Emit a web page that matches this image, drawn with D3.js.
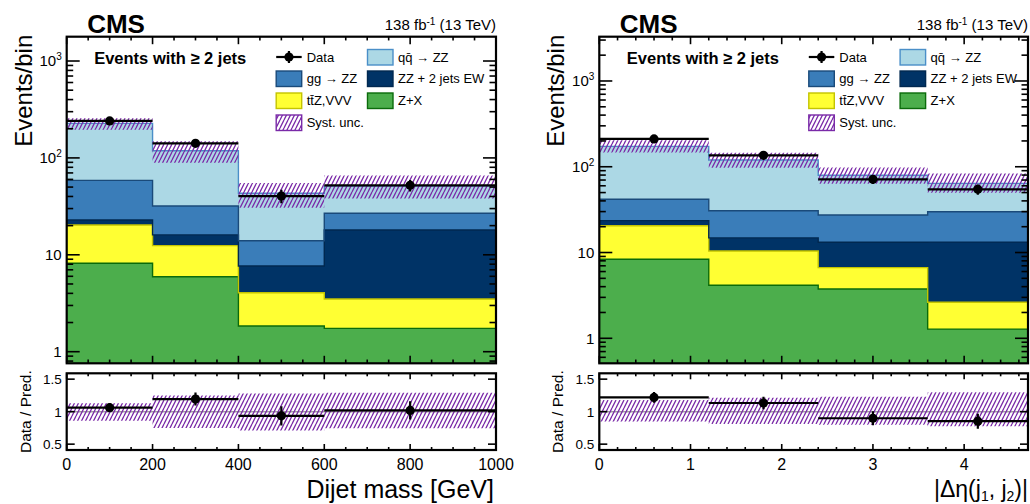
<!DOCTYPE html>
<html><head><meta charset="utf-8">
<script src="https://cdn.jsdelivr.net/npm/d3@7"></script>
<style>
body{margin:0;background:#fff}
svg{display:block}
text{font-family:"Liberation Sans",Arial,Helvetica,sans-serif;fill:#000}
</style>
</head><body><svg id="c" width="1030" height="504"></svg>
<script>
// ---------------- data ----------------
const leftEdges   = [0, 200, 400, 600, 1000];
const leftData    = [241, 141.5, 40.4, 52.1];
const leftDataErr = [15.5, 11.9, 6.4, 7.2];
const leftZX      = [8.17, 5.94, 1.84, 1.74];
const leftTTZ     = [12.1, 6.5, 2.22, 1.76];
const leftEW      = [2.6, 3.6, 3.6, 14.5];
const leftGG      = [35.8, 15.9, 6.3, 8.8];
const leftQQ      = [168.3, 86.6, 29.2, 24.3];
const leftUncUp   = [1.13, 1.25, 1.28, 1.29];
const leftUncDn   = [0.86, 0.75, 0.71, 0.745];
const leftXTicks  = [0, 200, 400, 600, 800, 1000];

const rightEdges   = [0, 1.2, 2.4, 3.6, 4.7];
const rightData    = [211, 136, 71.4, 54.6];
const rightDataErr = [14.5, 11.7, 8.5, 7.4];
const rightZX      = [8.34, 4.15, 3.76, 1.28];
const rightTTZ     = [12.2, 6.25, 2.9, 1.35];
const rightEW      = [3.0, 4.4, 6.5, 10.6];
const rightGG      = [18.3, 15.9, 14.2, 16.7];
const rightQQ      = [131.2, 89.3, 52.1, 34.1];
const rightUncUp   = [1.18, 1.215, 1.23, 1.30];
const rightUncDn   = [0.85, 0.81, 0.80, 0.775];
const rightXTicks  = [0, 1, 2, 3, 4];

const yMainTicks   = [1, 10, 100, 1000];
const yMainLabels  = [["1",""], ["10",""], ["10","2"], ["10","3"]];
const ratioTicks   = [0.5, 1, 1.5];
const ratioLabels  = ["0.5", "1", "1.5"];

const seriesNames  = ["Z+X", "tt\u0304Z,VVV", "ZZ + 2 jets EW", "gg \u2192 ZZ", "qq\u0304 \u2192 ZZ"];
// ---------------- styles ----------------
const fills  = ["#4cae4c", "#ffff33", "#003366", "#3a7db9", "#acd8e5"];
const edges  = ["#0b6b0b", "#c4c400", "#002850", "#1a4a7a", "#4a8fc8"];
const hatchColor = "#7a2aa8";

const svg = d3.select("#c");
const defs = svg.append("defs");
const pat = defs.append("pattern").attr("id", "hatch").attr("patternUnits", "userSpaceOnUse")
  .attr("width", 4).attr("height", 8);
pat.append("path").attr("d", "M0,8 L4,0 M-1,2 L0,0 M4,8 L5,6")
  .attr("stroke", hatchColor).attr("stroke-width", 1.3).attr("fill", "none");

function panel(cfg) {
  const {x0, x1, yTop, yMainBot, rTop, rBot, edgesArr, data, err, layers, up, dn,
         xDomain, yDomain, xTicks, xMinorStep, id} = cfg;
  const x = d3.scaleLinear().domain(xDomain).range([x0, x1]);
  const y = d3.scaleLog().domain(yDomain).range([yMainBot, yTop]);
  const r = d3.scaleLinear().domain([0.41, 1.59]).range([rBot, rTop]);
  const n = data.length;

  defs.append("clipPath").attr("id", "m" + id).append("rect")
    .attr("x", x0).attr("y", yTop).attr("width", x1 - x0).attr("height", yMainBot - yTop);
  defs.append("clipPath").attr("id", "r" + id).append("rect")
    .attr("x", x0).attr("y", rTop).attr("width", x1 - x0).attr("height", rBot - rTop);

  const gm = svg.append("g").attr("clip-path", `url(#m${id})`);
  const gr = svg.append("g").attr("clip-path", `url(#r${id})`);

  const total = d3.range(n).map(i => d3.sum(layers, L => L[i]));
  let lo = d3.range(n).map(() => yDomain[0]);
  let cum = d3.range(n).map(() => 0);
  const stepPts = (loA, hiA) => {
    const pts = d3.range(n).map(i => ({x: edgesArr[i], lo: loA[i], hi: hiA[i]}));
    pts.push({x: edgesArr[n], lo: loA[n - 1], hi: hiA[n - 1]});
    return pts;
  };
  const area = d3.area().x(d => x(d.x)).y0(d => y(d.lo)).y1(d => y(d.hi)).curve(d3.curveStepAfter);
  const line = d3.line().x(d => x(d.x)).y(d => y(d.hi)).curve(d3.curveStepAfter);
  const tops = [];
  layers.forEach((L, k) => {
    const hi = cum.map((c, i) => c + L[i]);
    const pts = stepPts(lo, hi);
    gm.append("path").attr("d", area(pts)).attr("fill", fills[k]);
    tops.push({pts, k});
    cum = hi; lo = hi.slice();
  });
  tops.forEach(t => {
    gm.append("path").attr("d", line(t.pts)).attr("fill", "none")
      .attr("stroke", edges[t.k]).attr("stroke-width", 1.4);
  });
  const bandPts = stepPts(total.map((t, i) => t * dn[i]), total.map((t, i) => t * up[i]));
  gm.append("path").attr("d", area(bandPts)).attr("fill", "url(#hatch)");

  const idx = d3.range(n);
  const cx = i => x((edgesArr[i] + edgesArr[i + 1]) / 2);
  gm.selectAll(null).data(idx).join("line")
    .attr("x1", i => x(edgesArr[i])).attr("x2", i => x(edgesArr[i + 1]))
    .attr("y1", i => y(data[i])).attr("y2", i => y(data[i]))
    .attr("stroke", "#000").attr("stroke-width", 2.2);
  gm.selectAll(null).data(idx).join("line")
    .attr("x1", cx).attr("x2", cx)
    .attr("y1", i => y(data[i] - err[i])).attr("y2", i => y(data[i] + err[i]))
    .attr("stroke", "#000").attr("stroke-width", 2.2);
  gm.selectAll(null).data(idx).join("circle")
    .attr("cx", cx).attr("cy", i => y(data[i])).attr("r", 4.6).attr("fill", "#000");

  const rArea = d3.area().x(d => x(d.x)).y0(d => r(d.lo)).y1(d => r(d.hi)).curve(d3.curveStepAfter);
  gr.append("line").attr("x1", x0).attr("x2", x1).attr("y1", r(1)).attr("y2", r(1))
    .attr("stroke", "#a0a0a0").attr("stroke-width", 1.5);
  gr.append("path").attr("d", rArea(stepPts(dn, up))).attr("fill", "url(#hatch)");
  const ratio = idx.map(i => data[i] / total[i]);
  const rerr = idx.map(i => err[i] / total[i]);
  gr.selectAll(null).data(idx).join("line")
    .attr("x1", i => x(edgesArr[i])).attr("x2", i => x(edgesArr[i + 1]))
    .attr("y1", i => r(ratio[i])).attr("y2", i => r(ratio[i]))
    .attr("stroke", "#000").attr("stroke-width", 2.2);
  gr.selectAll(null).data(idx).join("line")
    .attr("x1", cx).attr("x2", cx)
    .attr("y1", i => r(ratio[i] - rerr[i])).attr("y2", i => r(ratio[i] + rerr[i]))
    .attr("stroke", "#000").attr("stroke-width", 2.2);
  gr.selectAll(null).data(idx).join("circle")
    .attr("cx", cx).attr("cy", i => r(ratio[i])).attr("r", 4.6).attr("fill", "#000");

  // ticks
  const gt = svg.append("g").attr("stroke", "#000").attr("stroke-width", 1.6);
  const xMinor = d3.range(0, 200).map(i => +(i * xMinorStep).toFixed(6))
    .filter(v => v >= xDomain[0] && v <= xDomain[1] && !xTicks.includes(v));
  const xt = (vals, yy, len) => gt.selectAll(null).data(vals).join("line")
    .attr("x1", d => x(d)).attr("x2", d => x(d)).attr("y1", yy).attr("y2", yy + len);
  [[yMainBot, -1], [yTop, 1], [rBot, -1], [rTop, 1]].forEach(([yy, s]) => {
    const big = (yy === rBot || yy === rTop) ? 6 : 7.5;
    xt(xTicks, yy, s * big);
    xt(xMinor, yy, s * big / 2);
  });
  const yAll = y.ticks().filter(v => v >= yDomain[0] && v <= yDomain[1]);
  const yt = (vals, xx, len, sc) => gt.selectAll(null).data(vals).join("line")
    .attr("y1", d => sc(d)).attr("y2", d => sc(d)).attr("x1", xx).attr("x2", xx + len);
  [[x0, 1], [x1, -1]].forEach(([xx, s]) => {
    yt(yAll.filter(v => yMainTicks.includes(v)), xx, s * 13, y);
    yt(yAll.filter(v => !yMainTicks.includes(v)), xx, s * 6.5, y);
    yt(ratioTicks, xx, s * 8, r);
  });

  [[yTop, yMainBot], [rTop, rBot]].forEach(([a, b]) => {
    svg.append("rect").attr("x", x0).attr("y", a).attr("width", x1 - x0).attr("height", b - a)
      .attr("fill", "none").attr("stroke", "#000").attr("stroke-width", 2.2);
  });

  // tick labels
  const gl = svg.append("g").style("font-size", "15px");
  yMainTicks.forEach((v, i) => {
    const t = gl.append("text").attr("x", x0 - 5).attr("y", y(v)).attr("dy", "0.36em")
      .attr("text-anchor", "end");
    t.append("tspan").text(yMainLabels[i][0]);
    if (yMainLabels[i][1]) t.append("tspan").attr("font-size", "10px").attr("dy", "-6").text(yMainLabels[i][1]);
  });
  ratioTicks.forEach((v, i) => {
    gl.append("text").attr("x", x0 - 5).attr("y", r(v)).attr("dy", "0.36em")
      .attr("text-anchor", "end").style("font-size", "13.5px").text(ratioLabels[i]);
  });
  xTicks.forEach(v => {
    gl.append("text").attr("x", x(v)).attr("y", rBot + 20).attr("text-anchor", "middle")
      .style("font-size", "16px").text(String(v));
  });

  // axis titles
  svg.append("text").attr("transform", `translate(${x0 - 35},${yTop - 2}) rotate(-90)`)
    .attr("text-anchor", "end").style("font-size", "24px").text("Events/bin");
  svg.append("text").attr("transform", `translate(${x0 - 36},${(rTop + rBot) / 2}) rotate(-90)`)
    .attr("text-anchor", "middle").style("font-size", "15.5px").text("Data / Pred.");

  // CMS + lumi
  svg.append("text").attr("x", x0 + 20.5).attr("y", 33).style("font-size", "26px")
    .style("font-weight", "bold").text("CMS");
  const lum = svg.append("text").attr("x", x1).attr("y", 30).attr("text-anchor", "end")
    .style("font-size", "15px");
  lum.append("tspan").text("138 fb");
  lum.append("tspan").attr("dy", -5).style("font-size", "10px").text("-1");
  lum.append("tspan").attr("dy", 5).text(" (13 TeV)");

  svg.append("text").attr("x", x0 + 27.5).attr("y", 64).style("font-size", "16.5px")
    .style("font-weight", "bold").text("Events with \u2265 2 jets");

  // legend
  const lg = svg.append("g").style("font-size", "13px");
  const c1 = x0 + 209.5, c2 = x0 + 300.8, rowY = [57, 78.5, 100.5, 122.5];
  const box = (bx, by, k) => {
    lg.append("rect").attr("x", bx).attr("y", by - 7.5).attr("width", 25.5).attr("height", 15.5)
      .attr("fill", fills[k]).attr("stroke", edges[k]).attr("stroke-width", 1.4);
  };
  const txt = (tx, ty, s) => lg.append("text").attr("x", tx + 30.5).attr("y", ty).attr("dy", "0.36em").text(s);
  lg.append("line").attr("x1", c1).attr("x2", c1 + 25.5).attr("y1", rowY[0]).attr("y2", rowY[0])
    .attr("stroke", "#000").attr("stroke-width", 2.2);
  lg.append("line").attr("x1", c1 + 12.75).attr("x2", c1 + 12.75).attr("y1", rowY[0] - 6).attr("y2", rowY[0] + 6)
    .attr("stroke", "#000").attr("stroke-width", 2.2);
  lg.append("circle").attr("cx", c1 + 12.75).attr("cy", rowY[0]).attr("r", 4.6).attr("fill", "#000");
  txt(c1, rowY[0], "Data");
  box(c2, rowY[0], 4); txt(c2, rowY[0], seriesNames[4]);
  box(c1, rowY[1], 3); txt(c1, rowY[1], seriesNames[3]);
  box(c2, rowY[1], 2); txt(c2, rowY[1], seriesNames[2]);
  box(c1, rowY[2], 1); txt(c1, rowY[2], seriesNames[1]);
  box(c2, rowY[2], 0); txt(c2, rowY[2], seriesNames[0]);
  lg.append("rect").attr("x", c1).attr("y", rowY[3] - 7.5).attr("width", 25.5).attr("height", 15.5)
    .attr("fill", "url(#hatch)").attr("stroke", hatchColor).attr("stroke-width", 1.4);
  txt(c1, rowY[3], "Syst. unc.");
  return x;
}

panel({id: "L", x0: 66.7, x1: 496, yTop: 36.7, yMainBot: 363.3, rTop: 373.3, rBot: 450,
  edgesArr: leftEdges, data: leftData, err: leftDataErr,
  layers: [leftZX, leftTTZ, leftEW, leftGG, leftQQ], up: leftUncUp, dn: leftUncDn,
  xDomain: [0, 1000], yDomain: [0.759, 1782], xTicks: leftXTicks, xMinorStep: 50});
panel({id: "R", x0: 599.3, x1: 1028, yTop: 36.7, yMainBot: 363.3, rTop: 373.3, rBot: 450,
  edgesArr: rightEdges, data: rightData, err: rightDataErr,
  layers: [rightZX, rightTTZ, rightEW, rightGG, rightQQ], up: rightUncUp, dn: rightUncDn,
  xDomain: [0, 4.7], yDomain: [0.511, 3283], xTicks: rightXTicks, xMinorStep: 0.2});

// x-axis titles
svg.append("text").attr("x", 494).attr("y", 498).attr("text-anchor", "end")
  .style("font-size", "25px").text("Dijet mass [GeV]");
const xt2 = svg.append("text").attr("x", 1028).attr("y", 497).attr("text-anchor", "end")
  .style("font-size", "23px");
xt2.append("tspan").text("|\u0394\u03b7(j");
xt2.append("tspan").attr("dy", 4).style("font-size", "14px").text("1");
xt2.append("tspan").attr("dy", -4).text(", j");
xt2.append("tspan").attr("dy", 4).style("font-size", "14px").text("2");
xt2.append("tspan").attr("dy", -4).text(")|");
</script>
</body></html>
